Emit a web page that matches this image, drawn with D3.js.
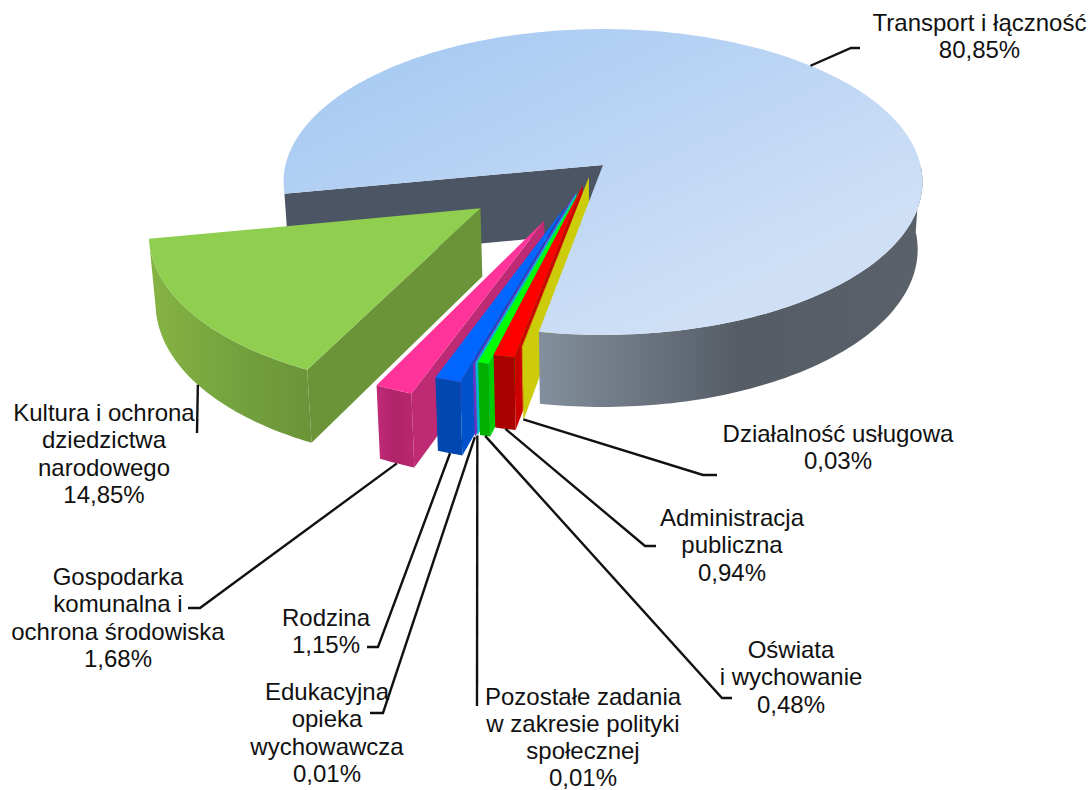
<!DOCTYPE html>
<html>
<head>
<meta charset="utf-8">
<script src="https://cdnjs.cloudflare.com/ajax/libs/d3/7.8.5/d3.min.js"></script>
<style>
  html, body { margin: 0; padding: 0; background: #fff; }
  svg { display: block; }
  text { font-family: "Liberation Sans", Arial, sans-serif; font-size: 24px; fill: #111; text-anchor: middle; }
</style>
</head>
<body>
<div id="chart"></div>
<script>
// data
const categories = [
  "Transport i łączność", "Działalność usługowa", "Administracja publiczna",
  "Oświata i wychowanie", "Pozostałe zadania w zakresie polityki społecznej",
  "Edukacyjna opieka wychowawcza", "Rodzina",
  "Gospodarka komunalna i ochrona środowiska",
  "Kultura i ochrona dziedzictwa narodowego"
];
const shares = [80.85, 0.03, 0.94, 0.48, 0.01, 0.01, 1.15, 1.68, 14.85];
const valueLabels = ["80,85%", "0,03%", "0,94%", "0,48%", "0,01%", "0,01%", "1,15%", "1,68%", "14,85%"];

// styles, same order as the data
const topColors = ["url(#mainTop)", "#cccc0a", "#ff0000", "#00ff00", "#00b8cc", "#7030c0", "#0066ff", "#ff3399", "#90ce50"];
const sideColors = ["#4b5563", "#cccc0a", "#cc0000", "#00cc00", "#00b8cc", "#7030c0", "#0052cc", "#bf2a75", "#6b9438"];
const frontColors = [
  ["#838f9c", "#555c66", "#5a6169"], ["#cccc0a", "#cccc0a", "#cccc0a"], ["#aa0000", "#a80000", "#aa0000"],
  ["#00b000", "#00b000", "#00b000"], ["#00b8cc", "#00b8cc", "#00b8cc"], ["#7030c0", "#7030c0", "#7030c0"],
  ["#0047b0", "#0047b0", "#0047b0"], ["#c02a78", "#b0246a", "#b82870"], ["#86b444", "#74a23e", "#6b9438"]
];
// how far each slice is pulled out of the pie, in disc units
const pulled = [[0, 0], [-0.044, 0.079], [-0.063, 0.132], [-0.075, 0.177], [-0.082, 0.179],
                [-0.088, 0.187], [-0.118, 0.276], [-0.178, 0.355], [-0.374, 0.278]];

// where each category name wraps, the value goes on the last line
const nameLines = [
  ["Transport i łączność"], ["Działalność usługowa"], ["Administracja", "publiczna"],
  ["Oświata", "i wychowanie"], ["Pozostałe zadania", "w zakresie polityki", "społecznej"],
  ["Edukacyjna", "opieka", "wychowawcza"], ["Rodzina"],
  ["Gospodarka", "komunalna i", "ochrona środowiska"], ["Kultura i ochrona", "dziedzictwa", "narodowego"]
];
// label anchor and leader bends
const labels = [
  { x: 979.5, y: 31, bends: [[851, 48], [860, 48]], top: true },
  { x: 838, y: 442, bends: [[703, 475], [717, 475]] },
  { x: 732, y: 526, bends: [[645, 546], [656, 546]] },
  { x: 791, y: 658, bends: [[722, 698], [732, 698]] },
  { x: 583, y: 704.5, bends: [[477, 706]] },
  { x: 327, y: 700, bends: [[383, 713], [370, 713]] },
  { x: 326, y: 626, bends: [[378, 647], [367, 647]] },
  { x: 118, y: 585, bends: [[200, 608], [188, 608]] },
  { x: 104, y: 421, bends: [[197, 433]] }
];

const width = 1090, height = 790;
const cx = 603, cy = 165, rx = 317.5, ry = 151, persp = 0.111;
const lineHeight = 27.3;
const startDeg = 259.3;

const svg = d3.select("#chart").append("svg").attr("width", width).attr("height", height);
const defs = svg.append("defs");

const mainTop = defs.append("linearGradient").attr("id", "mainTop")
    .attr("gradientUnits", "userSpaceOnUse")
    .attr("x1", 400).attr("y1", 40).attr("x2", 560).attr("y2", 380);
mainTop.append("stop").attr("offset", 0).attr("stop-color", "#a8caf2");
mainTop.append("stop").attr("offset", 1).attr("stop-color", "#cfe0f6");

frontColors.forEach((c, i) => {
  const g = defs.append("linearGradient").attr("id", "front" + i);
  g.append("stop").attr("offset", 0).attr("stop-color", c[0]);
  g.append("stop").attr("offset", 0.52).attr("stop-color", c[1]);
  g.append("stop").attr("offset", 1).attr("stop-color", c[2]);
});

// slices go clockwise from the left edge of the big one
const pie = d3.pie().sort(null).startAngle(startDeg * Math.PI / 180).endAngle((startDeg + 360) * Math.PI / 180);
const slices = pie(shares);

// disc coordinates to the picture, with a bit of perspective
function project(u, v) {
  const w = 1 - persp * v;
  return [cx + rx * u / w, cy + ry * v / w];
}
function rim(i, a) {
  return project(pulled[i][0] + Math.sin(a), pulled[i][1] - Math.cos(a));
}
function apex(i) {
  return project(pulled[i][0], pulled[i][1]);
}
// same point on the underside of the pie
function lift(p) {
  return [cx + (p[0] - cx) * 0.985, cy + 67 + (p[1] - cy) * 1.03];
}
function arcPoints(i, a0, a1) {
  const n = Math.max(2, Math.ceil((a1 - a0) / 0.02));
  return d3.range(n + 1).map(k => rim(i, a0 + (a1 - a0) * k / n));
}

const line = d3.line().curve(d3.curveLinearClosed);
const pieG = svg.append("g");

function drawWall(i) {
  const a = slices[i].startAngle;
  const outer = rim(i, a), inner = apex(i);
  pieG.append("path")
      .attr("d", line([inner, outer, lift(outer), lift(inner)]))
      .attr("fill", sideColors[i]);
}
function drawFront(i, a0) {
  const top = arcPoints(i, a0, slices[i].endAngle);
  pieG.append("path")
      .attr("d", line(top.concat(top.map(lift).reverse())))
      .attr("fill", "url(#front" + i + ")");
}
function drawTop(i) {
  const top = arcPoints(i, slices[i].startAngle, slices[i].endAngle);
  pieG.append("path")
      .attr("d", line([apex(i)].concat(top)))
      .attr("fill", topColors[i]);
}

// back to front: dark inner wall of the big slice, small ones left to right, then the big one
drawWall(0);
for (let i = slices.length - 1; i > 0; i--) {
  drawWall(i);
  drawFront(i, slices[i].startAngle);
  drawTop(i);
}
drawFront(0, 450 * Math.PI / 180);
drawTop(0);

// leaders
const leaderLine = d3.line();
labels.forEach((l, i) => {
  const mid = (slices[i].startAngle + slices[i].endAngle) / 2;
  const start = l.top ? rim(i, mid) : lift(rim(i, mid));
  svg.append("path")
      .attr("d", leaderLine([start].concat(l.bends)))
      .attr("fill", "none")
      .attr("stroke", "#111")
      .attr("stroke-width", 2.4);
});

// label text
labels.forEach((l, i) => {
  svg.append("text")
      .attr("data-category", categories[i])
      .selectAll("tspan")
      .data(nameLines[i].concat(valueLabels[i]))
      .join("tspan")
      .attr("x", l.x)
      .attr("y", (d, j) => l.y + j * lineHeight)
      .text(d => d);
});
</script>
</body>
</html>
